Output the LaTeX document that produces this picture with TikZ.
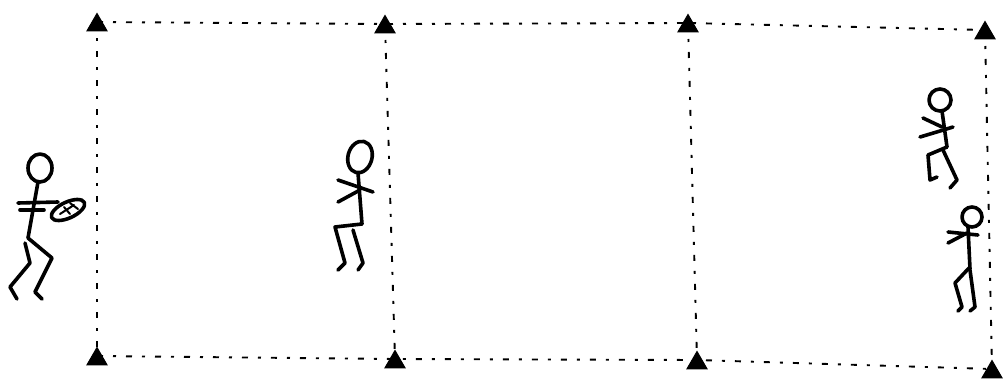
\documentclass[tikz,border=0pt]{standalone}
\usetikzlibrary{shapes.geometric}
\begin{document}
\begin{tikzpicture}[x=1pt,y=-1pt,
  field/.style={line width=1.9pt, dash pattern=on 6pt off 10pt on 3pt off 10pt},
  cone/.style={regular polygon, regular polygon sides=3, fill=black, draw=black,
    line width=1pt, minimum size=23pt, inner sep=0pt},
  stick/.style={line width=3.6pt, line cap=round, line join=round}]
\useasboundingbox (0,0) rectangle (1003,383);

% corner points of the three grids
\coordinate (t1) at (97,22);  \coordinate (t2) at (385,24);
\coordinate (t3) at (688,23); \coordinate (t4) at (985,30);
\coordinate (b1) at (97,356); \coordinate (b2) at (395,359);
\coordinate (b3) at (697,360);\coordinate (b4) at (992,369);

% field boundaries
\draw[field] (t1) -- (t2) -- (t3) -- (t4);
\draw[field] (b1) -- (b2) -- (b3) -- (b4);
\draw[field] (t1) -- (b1);
\draw[field] (t2) -- (b2);
\draw[field] (t3) -- (b3);
\draw[field] (t4) -- (b4);

% cones
\foreach \p in {t1,t2,t3,t4,b1,b2,b3,b4}
  \node[cone] (cone-\p) at ([yshift=-3pt]\p) {};

% player with ball (left)
\draw[stick] (40,168) ellipse [x radius=12, y radius=14];
\draw[stick] (38,182) -- (28,238);
\draw[stick] (18,203) -- (58,202);
\draw[stick] (20,210) -- (44,210);
\draw[stick, rotate around={25:(68,210)}] (68,210) ellipse [x radius=18, y radius=8];
\draw[line width=2pt, line cap=round] (60,214) -- (74,205) (64,207) -- (70,214) (70,203) -- (78,209);
\draw[stick] (28,238) -- (52,258) -- (35,292) -- (42,299);
\draw[stick] (25,243) -- (30,263) -- (10,287) -- (17,299);

% middle player
\draw[stick, rotate around={-15:(360,157)}] (360,157) ellipse [x radius=12, y radius=16];
\draw[stick] (358,173) -- (362,224);
\draw[stick] (338,180) -- (373,192);
\draw[stick] (338,202) -- (360,190);
\draw[stick] (362,224) -- (335,227) -- (345,263) -- (338,270);
\draw[stick] (353,230) -- (363,263) -- (358,270);

% upper right player
\draw[stick] (940,100) circle [radius=11];
\draw[stick] (942,111) -- (947,147);
\draw[stick] (923,118) -- (942,127);
\draw[stick] (920,137) -- (940,131) -- (953,127);
\draw[stick] (947,147) -- (928,155) -- (930,180) -- (937,177);
\draw[stick] (943,150) -- (957,180) -- (950,188);

% lower right player
\draw[stick] (972,217) circle [radius=10];
\draw[stick] (968,227) -- (970,269);
\draw[stick] (948,232) -- (978,235);
\draw[stick] (948,243) -- (967,233);
\draw[stick] (969,268) -- (955,283) -- (962,307) -- (958,311);
\draw[stick] (970,270) -- (975,307) -- (970,311);
\end{tikzpicture}
\end{document}
